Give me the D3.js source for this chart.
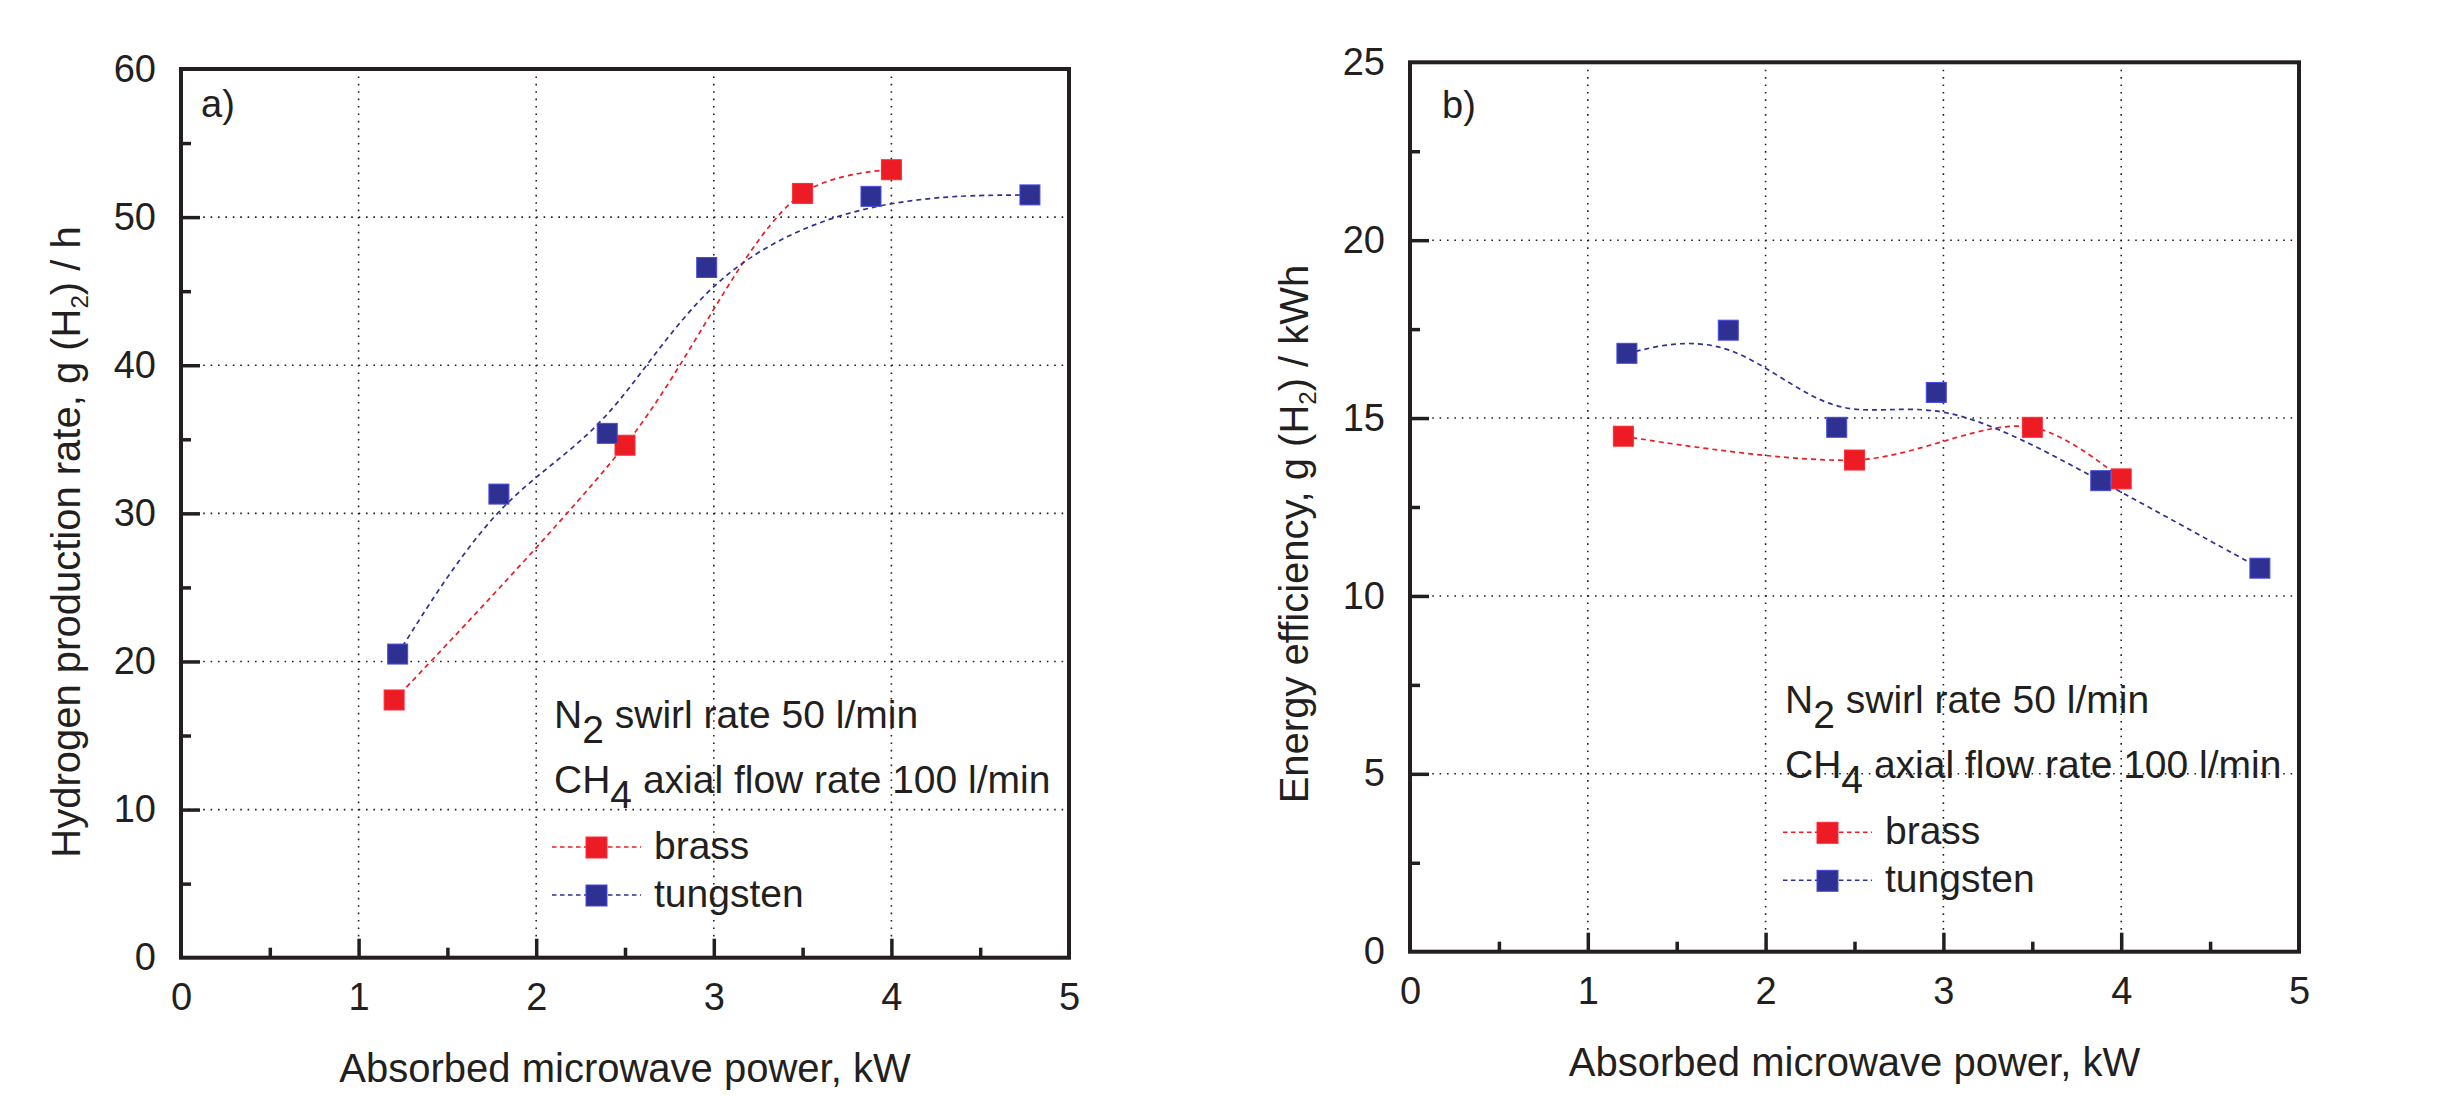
<!DOCTYPE html>
<html>
<head>
<meta charset="utf-8">
<script src="https://cdn.jsdelivr.net/npm/d3@7"></script>
<style>
  body { margin: 0; background: #fff; }
  svg { display: block; font-family: "Liberation Sans", Arial, Helvetica, sans-serif; }
</style>
</head>
<body>
<svg id="chart" width="2460" height="1112"></svg>
<script>
// values
var powerBrass = [1.2, 2.5, 3.5, 4.0];
var powerTungsten = [1.22, 1.79, 2.40, 2.96, 3.885, 4.78];
var rateBrass = [17.4, 34.6, 51.6, 53.2];
var rateTungsten = [20.5, 31.3, 35.4, 46.6, 51.4, 51.5];
var effBrass = [14.49, 13.82, 14.74, 13.29];
var effTungsten = [16.82, 17.47, 14.74, 15.72, 13.24, 10.78];

var xTicks = [0, 1, 2, 3, 4, 5];
var xMinor = [0.5, 1.5, 2.5, 3.5, 4.5];
var yTicksA = [0, 10, 20, 30, 40, 50, 60];
var yMinorA = [5, 15, 25, 35, 45, 55];
var yTicksB = [0, 5, 10, 15, 20, 25];
var yMinorB = [2.5, 7.5, 12.5, 17.5, 22.5];

var xTitle = "Absorbed microwave power, kW";
var seriesNames = ["brass", "tungsten"];

var red = "#ed1c24", blue = "#2e3192", ink = "#231f20";

var svg = d3.select("#chart");

var panels = [
  {left: 181, right: 1069, top: 69, bottom: 957.7, yMax: 60, yTicks: yTicksA, yMinor: yMinorA,
   brass: rateBrass, tungsten: rateTungsten, tag: "a)", tagX: 20, tagY: 48,
   yTitle: ["Hydrogen production rate, g (H", "2", ") / h"], yTitleX: 80, yTitleY: 542,
   noteX: 373, noteY: 659},
  {left: 1410, right: 2299, top: 62.3, bottom: 951.7, yMax: 25, yTicks: yTicksB, yMinor: yMinorB,
   brass: effBrass, tungsten: effTungsten, tag: "b)", tagX: 32, tagY: 56,
   yTitle: ["Energy efficiency, g (H", "2", ") / kWh"], yTitleX: 1308, yTitleY: 534,
   noteX: 375, noteY: 651}
];

panels.forEach(function(p) {
  var w = p.right - p.left, h = p.bottom - p.top;
  var x = d3.scaleLinear().domain([0, 5]).range([0, w]);
  var y = d3.scaleLinear().domain([0, p.yMax]).range([h, 0]);

  var g = svg.append("g").attr("transform", "translate(" + p.left + "," + p.top + ")");

  // dotted grid
  g.selectAll(".gx").data(xTicks.slice(1, -1)).join("line")
      .attr("x1", d => x(d)).attr("x2", d => x(d)).attr("y1", 0).attr("y2", h)
      .attr("stroke", ink).attr("stroke-width", 1.6).attr("stroke-dasharray", "1.6,5.8");
  g.selectAll(".gy").data(p.yTicks.slice(1, -1)).join("line")
      .attr("y1", d => y(d)).attr("y2", d => y(d)).attr("x1", 0).attr("x2", w)
      .attr("stroke", ink).attr("stroke-width", 1.6).attr("stroke-dasharray", "1.6,5.8");

  // series
  var sets = [
    {xs: powerBrass, ys: p.brass, color: red, curve: d3.curveCatmullRom},
    {xs: powerTungsten, ys: p.tungsten, color: blue, curve: d3.curveBasis}
  ];
  sets.forEach(function(s) {
    var pts = s.xs.map((v, i) => [v, s.ys[i]]);
    g.append("path")
        .attr("d", d3.line().x(d => x(d[0])).y(d => y(d[1])).curve(s.curve)(pts))
        .attr("fill", "none").attr("stroke", s.color).attr("stroke-width", 1.7)
        .attr("stroke-dasharray", "5,4");
  });
  sets.forEach(function(s) {
    var pts = s.xs.map((v, i) => [v, s.ys[i]]);
    g.selectAll(null).data(pts).join("rect")
        .attr("x", d => x(d[0]) - 10).attr("y", d => y(d[1]) - 10)
        .attr("width", 20).attr("height", 20)
        .attr("fill", s.color).attr("stroke", d3.color(s.color).brighter(1.2)).attr("stroke-width", 1);
  });

  // axes: minor and major ticks pointing inward
  var xa = g.append("g").attr("transform", "translate(0," + h + ")")
      .call(d3.axisBottom(x).tickValues(xMinor).tickSize(-10).tickFormat(""));
  var xb = g.append("g").attr("transform", "translate(0," + h + ")")
      .call(d3.axisBottom(x).tickValues(xTicks).tickSize(-19).tickPadding(25).tickFormat(d3.format("d")));
  var ya = g.append("g").call(d3.axisLeft(y).tickValues(p.yMinor).tickSize(-10).tickFormat(""));
  var yb = g.append("g").call(d3.axisLeft(y).tickValues(p.yTicks).tickSize(-19).tickPadding(25).tickFormat(d3.format("d")));
  [xa, xb, ya, yb].forEach(function(a) {
    a.select(".domain").remove();
    a.selectAll("line").attr("stroke", ink).attr("stroke-width", 3.5);
    a.selectAll("text").attr("fill", ink).attr("font-size", 38).attr("font-family", null);
  });
  xb.selectAll("line").filter(d => d === 0 || d === 5).remove();
  yb.selectAll("line").filter(d => d === 0 || d === p.yMax).remove();

  g.append("rect").attr("width", w).attr("height", h)
      .attr("fill", "none").attr("stroke", ink).attr("stroke-width", 4);

  // panel tag
  g.append("text").attr("x", p.tagX).attr("y", p.tagY).attr("font-size", 38).attr("fill", ink).text(p.tag);

  // condition note + legend
  var n = g.append("g").attr("transform", "translate(" + p.noteX + "," + p.noteY + ")")
      .attr("font-size", 39).attr("fill", ink);
  var t1 = n.append("text").attr("y", 0);
  t1.append("tspan").text("N");
  t1.append("tspan").attr("dy", 15).text("2");
  t1.append("tspan").attr("dy", -15).text(" swirl rate 50 l/min");
  var t2 = n.append("text").attr("y", 65);
  t2.append("tspan").text("CH");
  t2.append("tspan").attr("dy", 15).text("4");
  t2.append("tspan").attr("dy", -15).text(" axial flow rate 100 l/min");

  var leg = n.selectAll(".leg").data(seriesNames).join("g")
      .attr("transform", (d, i) => "translate(0," + (119 + i * 48) + ")");
  leg.append("line").attr("x1", -2).attr("x2", 87).attr("y1", 0).attr("y2", 0)
      .attr("stroke", (d, i) => i ? blue : red).attr("stroke-width", 1.5).attr("stroke-dasharray", "4.5,3.5");
  leg.append("rect").attr("x", 32).attr("y", -10).attr("width", 21).attr("height", 21)
      .attr("fill", (d, i) => i ? blue : red)
      .attr("stroke", (d, i) => d3.color(i ? blue : red).brighter(1.2)).attr("stroke-width", 1);
  leg.append("text").attr("x", 100).attr("y", 12).text(d => d);

  // axis titles
  svg.append("text")
      .attr("x", (p.left + p.right) / 2).attr("y", p.bottom + 124)
      .attr("text-anchor", "middle").attr("font-size", 40).attr("fill", ink)
      .text(xTitle);
  var yt = svg.append("text")
      .attr("transform", "translate(" + p.yTitleX + "," + p.yTitleY + ") rotate(-90)")
      .attr("text-anchor", "middle").attr("font-size", 40).attr("fill", ink);
  yt.append("tspan").text(p.yTitle[0]);
  yt.append("tspan").attr("font-size", 24).attr("dy", 8).text(p.yTitle[1]);
  yt.append("tspan").attr("dy", -8).text(p.yTitle[2]);
});
</script>
</body>
</html>
